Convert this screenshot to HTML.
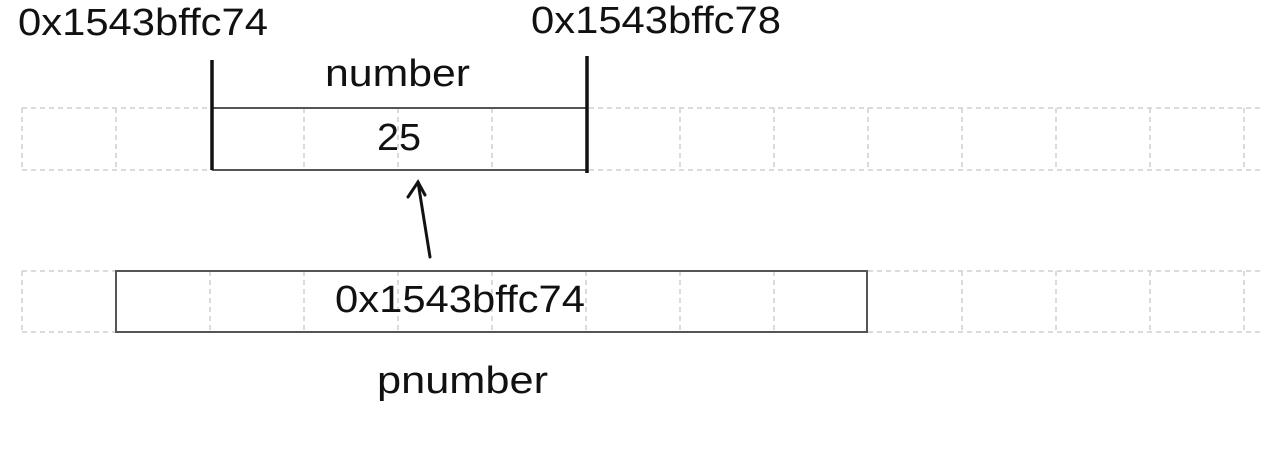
<!DOCTYPE html>
<html><head><meta charset="utf-8"><style>
html,body{margin:0;padding:0;background:#fff;}
</style></head><body>
<svg width="1262" height="454" xmlns="http://www.w3.org/2000/svg" style="display:block">
<g stroke="#cfcfcf" stroke-width="1.5" stroke-dasharray="5,4" fill="none">
<line x1="22" y1="108" x2="1262" y2="108"/>
<line x1="22" y1="170" x2="1262" y2="170"/>
<line x1="22" y1="271" x2="1262" y2="271"/>
<line x1="22" y1="332" x2="1262" y2="332"/>
<g>
<line x1="22" y1="108" x2="22" y2="170"/><line x1="116" y1="108" x2="116" y2="170"/>
<line x1="304" y1="108" x2="304" y2="170"/><line x1="398" y1="108" x2="398" y2="170"/><line x1="492" y1="108" x2="492" y2="170"/>
<line x1="680" y1="108" x2="680" y2="170"/><line x1="774" y1="108" x2="774" y2="170"/><line x1="868" y1="108" x2="868" y2="170"/>
<line x1="962" y1="108" x2="962" y2="170"/><line x1="1056" y1="108" x2="1056" y2="170"/><line x1="1150" y1="108" x2="1150" y2="170"/><line x1="1244" y1="108" x2="1244" y2="170"/>
<line x1="22" y1="271" x2="22" y2="332"/><line x1="210" y1="271" x2="210" y2="332"/><line x1="304" y1="271" x2="304" y2="332"/>
<line x1="398" y1="271" x2="398" y2="332"/><line x1="492" y1="271" x2="492" y2="332"/><line x1="586" y1="271" x2="586" y2="332"/>
<line x1="680" y1="271" x2="680" y2="332"/><line x1="774" y1="271" x2="774" y2="332"/>
<line x1="962" y1="271" x2="962" y2="332"/><line x1="1056" y1="271" x2="1056" y2="332"/><line x1="1150" y1="271" x2="1150" y2="332"/><line x1="1244" y1="271" x2="1244" y2="332"/>
</g>
</g>
<g stroke="#555" stroke-width="2" fill="none">
<line x1="212" y1="108" x2="586" y2="108"/>
<line x1="212" y1="170" x2="586" y2="170"/>
<rect x="116" y="271" width="751" height="61"/>
</g>
<g stroke="#111" stroke-width="3.5">
<line x1="212" y1="60" x2="212" y2="170"/>
<line x1="587" y1="56" x2="587" y2="173"/>
</g>
<g stroke="#111" stroke-width="3" fill="none" stroke-linecap="round">
<line x1="430" y1="257" x2="418" y2="182"/>
<polyline points="408,197 418,182 425,195"/>
</g>
<g font-family="Liberation Sans, sans-serif" font-size="38" fill="#111" lengthAdjust="spacingAndGlyphs">
<text x="18" y="35" textLength="250" lengthAdjust="spacingAndGlyphs">0x1543bffc74</text>
<text x="531" y="33" textLength="250" lengthAdjust="spacingAndGlyphs">0x1543bffc78</text>
<text x="325" y="86" textLength="145" lengthAdjust="spacingAndGlyphs">number</text>
<text x="377" y="150" textLength="44" lengthAdjust="spacingAndGlyphs">25</text>
<text x="335" y="312" textLength="250" lengthAdjust="spacingAndGlyphs">0x1543bffc74</text>
<text x="377" y="393" textLength="171" lengthAdjust="spacingAndGlyphs">pnumber</text>
</g>
</svg>
</body></html>
